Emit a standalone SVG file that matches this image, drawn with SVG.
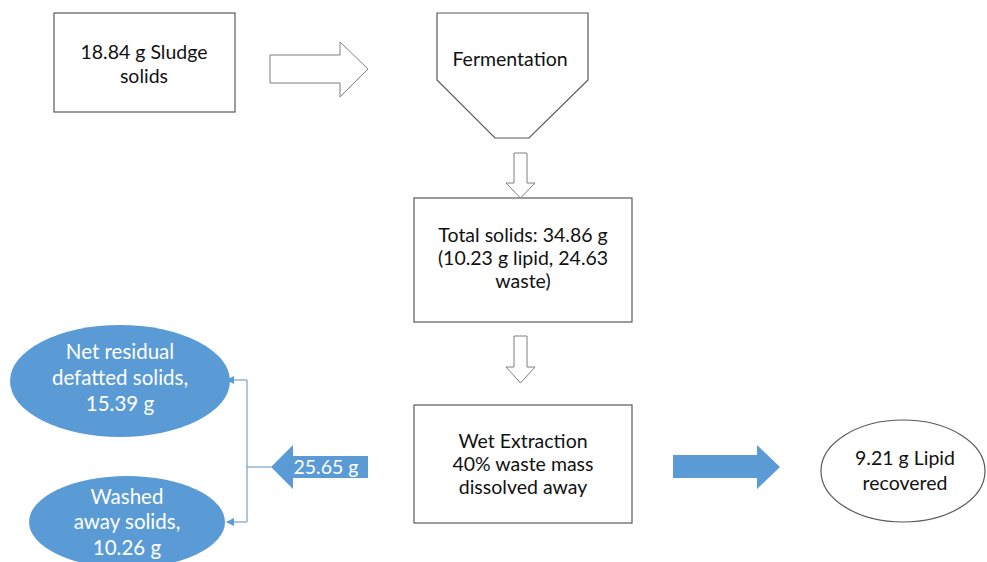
<svg xmlns="http://www.w3.org/2000/svg" width="987" height="562" viewBox="0 0 987 562">
<defs>
<style>
.box{fill:#fff;stroke:#595959;stroke-width:1.2}
.hollow{fill:#fff;stroke:#7f7f7f;stroke-width:1}
.blue{fill:#5b9bd5;stroke:none}
.t{font-family:Lato,"Open Sans",sans-serif;font-size:19.5px;fill:#111;text-anchor:middle}
.w{font-family:Lato,"Open Sans",sans-serif;font-size:20.5px;fill:#fff;text-anchor:middle}
.conn{fill:none;stroke:#7fa8d4;stroke-width:1.3}
</style>
<marker id="ah" markerWidth="8" markerHeight="8" refX="7" refY="4" orient="auto" markerUnits="userSpaceOnUse">
<path d="M0,0 L8,4 L0,8 Z" fill="#5b9bd5"/>
</marker>
</defs>
<rect width="987" height="562" fill="#fff"/>

<g id="sludge">
<rect class="box" x="54" y="13" width="181" height="99"/>
<text class="t" x="144" y="59">18.84 g Sludge</text>
<text class="t" x="144" y="83">solids</text>
</g>

<g id="fermentation">
<path class="box" d="M437,13 H588 V80 L529,138 H495 L437,80 Z"/>
<text class="t" x="510" y="66">Fermentation</text>
</g>

<g id="total-solids">
<rect class="box" x="414" y="198" width="218" height="124"/>
<text class="t" x="523" y="242">Total solids: 34.86 g</text>
<text class="t" x="523" y="265">(10.23 g lipid, 24.63</text>
<text class="t" x="523" y="288">waste)</text>
</g>

<g id="wet-extraction">
<rect class="box" x="414" y="405" width="218" height="118"/>
<text class="t" x="523" y="448">Wet Extraction</text>
<text class="t" x="523" y="471">40% waste mass</text>
<text class="t" x="523" y="494">dissolved away</text>
</g>

<g id="lipid">
<ellipse cx="903" cy="471" rx="82" ry="51" fill="#fff" stroke="#595959" stroke-width="1.2"/>
<text class="t" x="905" y="465">9.21 g Lipid</text>
<text class="t" x="905" y="490">recovered</text>
</g>

<g id="net-residual">
<ellipse class="blue" cx="120" cy="381" rx="110" ry="56"/>
<text class="w" x="120" y="359">Net residual</text>
<text class="w" x="120" y="385">defatted solids,</text>
<text class="w" x="120" y="411">15.39 g</text>
</g>

<g id="washed">
<ellipse class="blue" cx="127" cy="522" rx="98" ry="46"/>
<text class="w" x="127" y="504">Washed</text>
<text class="w" x="127" y="529">away solids,</text>
<text class="w" x="127" y="555">10.26 g</text>
</g>

<g id="connectors">
<path class="hollow" d="M270,55 H340 V42 L368,69 L340,97 V83 H270 Z"/>
<path class="hollow" d="M514,153 H527 V183 H535 L520.5,198 L506,183 H514 Z"/>
<path class="hollow" d="M514,336 H527 V367 H535 L520.5,383 L506,367 H514 Z"/>
<path class="blue" d="M673,455 H757 V445 L780,467 L757,489 V478 H673 Z"/>
<g id="arrow-25">
<path class="blue" d="M368,456 V478 H293 V489 L271,467 L293,445 V456 Z"/>
<text class="w" x="326" y="474" style="font-size:19.5px">25.65 g</text>
</g>
<path class="conn" d="M271,467 H247"/>
<path class="conn" d="M247,380 V522"/>
<path class="conn" d="M247,380 H227" marker-end="url(#ah)"/>
<path class="conn" d="M247,522 H227" marker-end="url(#ah)"/>
</g>
</svg>
